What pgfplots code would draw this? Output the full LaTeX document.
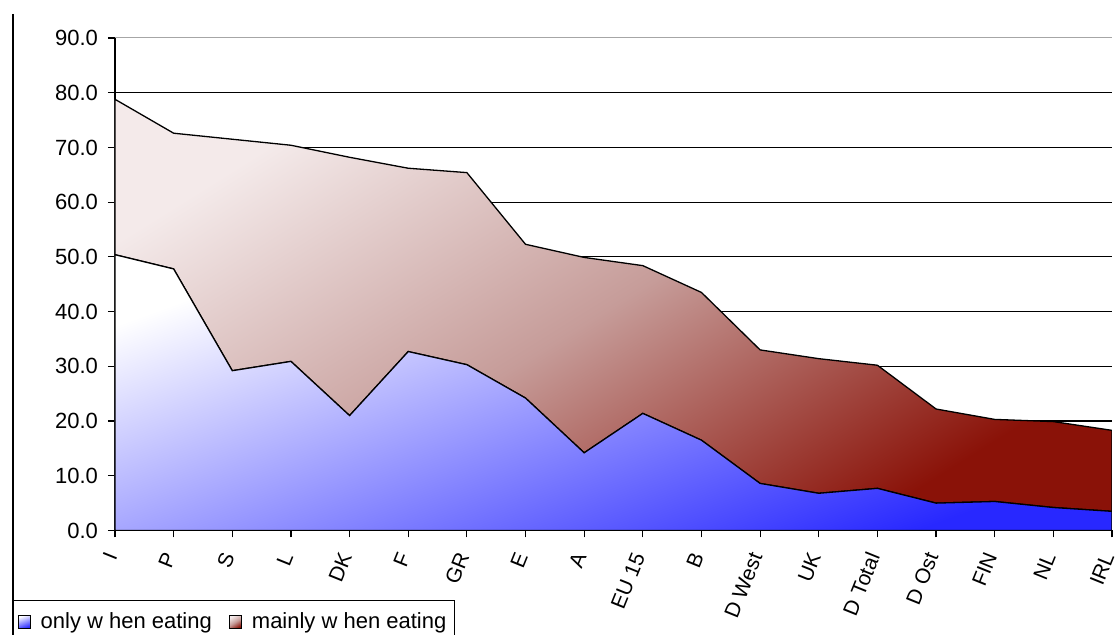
\documentclass[border=0pt]{standalone}
\usepackage{pgfplots}
\pgfplotsset{compat=1.18}
\usepackage{pgfplotstable}
\usepackage{fontspec}
\setmainfont{Liberation Sans}
\definecolor{bluedark}{RGB}{40,40,255}
\definecolor{bluelight}{RGB}{255,255,255}
\definecolor{reddark}{RGB}{138,18,8}
\definecolor{redmid}{RGB}{198,156,153}
\definecolor{redlight}{RGB}{244,234,234}
\pgfplotstableread{
x only mainly
0 50.4 28.4
1 47.8 24.8
2 29.2 42.3
3 30.9 39.5
4 21.0 47.2
5 32.7 33.5
6 30.3 35.1
7 24.2 28.1
8 14.2 35.7
9 21.4 27.0
10 16.5 27.0
11 8.6 24.4
12 6.8 24.6
13 7.7 22.5
14 5.0 17.2
15 5.3 15.0
16 4.2 15.7
17 3.5 14.8
}\datatable
\begin{document}
\begin{tikzpicture}
\path[use as bounding box] (0pt,0pt) rectangle (558pt,317.5pt);
\clip (0pt,0pt) rectangle (558pt,317.5pt);
\begin{axis}[
  at={(57.5pt,52.25pt)}, anchor=south west,
  scale only axis, width=498.5pt, height=246.25pt,
  xmin=0, xmax=17, ymin=0, ymax=90,
  enlargelimits=false,
  stack plots=y,
  axis x line*=bottom, axis y line*=left,
  axis line style={-, black, line width=0.6pt},
  tick align=outside, major tick length=3.5pt,
  tick style={black, line width=0.6pt},
  xtick=data,
  xticklabels={I,P,S,L,DK,F,GR,E,A,EU 15,B,D West,UK,D Total,D Ost,FIN,NL,IRL},
  xticklabel shift=7pt,
  xticklabel style={xshift=-1.5pt, rotate=68, anchor=east, inner sep=1pt, font=\fontsize{10.5pt}{12pt}\selectfont},
  ytick={0,10,...,80},
  extra y ticks={90},
  extra y tick style={grid style={gray!70, line width=0.5pt}},
  ymajorgrids,
  grid style={black, line width=0.55pt},
  yticklabel style={xshift=-1.5pt, /pgf/number format/fixed, /pgf/number format/precision=1, /pgf/number format/fixed zerofill, font=\fontsize{11pt}{13pt}\selectfont},
  /pgf/number format/assume math mode=true,
  legend columns=2,
  legend style={at={(-0.1023,-0.1411)}, anchor=north west, draw=black, line width=0.6pt,
    font=\fontsize{11pt}{13pt}\selectfont, inner xsep=2pt, inner ysep=4pt,
    /tikz/every even column/.append style={column sep=6.5pt}},
  legend image code/.code={\draw[#1, draw=black, line width=0.4pt] (1pt,-3.3pt) rectangle (7pt,3.3pt); \path (10pt,0pt);},
]
\addplot[draw=black, line width=0.65pt, top color=bluelight, bottom color=bluedark, shading angle=20] table[x=x, y=only] {\datatable} \closedcycle;
\addlegendentry{only w hen eating}
\addplot[draw=black, line width=0.65pt, top color=redlight, bottom color=reddark, middle color=redmid, shading angle=32] table[x=x, y=mainly] {\datatable} \closedcycle;
\addlegendentry{mainly w hen eating}
\end{axis}
\draw[black, line width=0.6pt] (6.5pt,310.5pt) -- (6.5pt,0pt);
\end{tikzpicture}
\end{document}
